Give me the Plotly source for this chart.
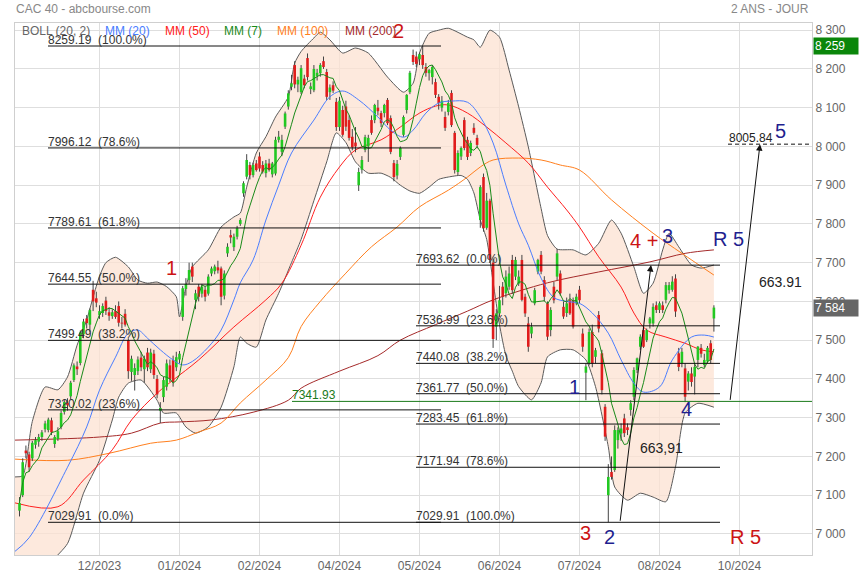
import plotly.graph_objects as go
import pandas as pd

# ------------------------------------------------------------------ data
# CAC 40 daily bars (index 0 = 13/11/2023 ... 217 = 19/09/2024)
bar_open = [
    7060, 7100, 7215, 7205, 7195, 7230, 7238, 7250, 7270, 7268,
    7293, 7232, 7245, 7276, 7315, 7338, 7355, 7397, 7432, 7441,
    7515, 7556, 7540, 7630, 7608, 7565, 7570, 7602, 7572, 7562,
    7575, 7588, 7545, 7568, 7500, 7418, 7410, 7420, 7455, 7425,
    7468, 7425, 7465, 7400, 7318, 7353, 7380, 7435, 7448, 7430,
    7450, 7560, 7632, 7655, 7690, 7604, 7638, 7620, 7630, 7620,
    7672, 7678, 7688, 7685, 7615, 7724, 7771, 7740, 7767, 7800,
    7879, 7922, 7952, 7926, 7956, 7974, 7952, 7931, 7956, 7928,
    7930, 8017, 7986, 8051, 8103, 8154, 8210, 8160, 8140, 8175,
    8228, 8148, 8145, 8182, 8189, 8220, 8192, 8140, 8158, 8115,
    8050, 8094, 8103, 8068, 8025, 8010, 7900, 7940, 7991, 8000,
    8068, 8068, 8100, 8086, 8086, 8120, 8073, 7957, 7925, 7973,
    8030, 8094, 8140, 8236, 8232, 8225, 8236, 8205, 8189, 8179,
    8166, 8128, 8100, 8076, 8089, 8138, 8035, 7934, 7974, 8068,
    8017, 7983, 8048, 8022, 7810, 7921, 7790, 7860, 7700, 7535,
    7569, 7638, 7621, 7638, 7707, 7664, 7646, 7707, 7612, 7543,
    7517, 7595, 7677, 7720, 7655, 7595, 7526, 7638, 7664, 7672,
    7586, 7570, 7603, 7603, 7595, 7630, 7517, 7416, 7440, 7521,
    7457, 7565, 7466, 7328, 7100, 7160, 7165, 7242, 7259, 7298,
    7275, 7320, 7354, 7423, 7483, 7526, 7500, 7543, 7543, 7590,
    7578, 7590, 7604, 7629, 7630, 7659, 7466, 7440, 7427, 7393,
    7414, 7406, 7449, 7480, 7436, 7445, 7492, 7556]
bar_high = [
    7095, 7195, 7228, 7212, 7240, 7250, 7258, 7268, 7292, 7300,
    7300, 7255, 7275, 7318, 7345, 7350, 7395, 7440, 7445, 7525,
    7555, 7565, 7582, 7653, 7625, 7590, 7595, 7612, 7585, 7580,
    7590, 7600, 7560, 7580, 7505, 7460, 7440, 7458, 7470, 7460,
    7480, 7478, 7475, 7410, 7340, 7405, 7450, 7450, 7460, 7470,
    7472, 7640, 7660, 7700, 7700, 7630, 7645, 7645, 7640, 7670,
    7690, 7695, 7705, 7690, 7680, 7750, 7785, 7775, 7795, 7815,
    7910, 7980, 7960, 7958, 7965, 7985, 7962, 7965, 7968, 7960,
    8025, 8040, 8030, 8090, 8145, 8185, 8220, 8180, 8210, 8185,
    8240, 8165, 8210, 8200, 8215, 8232, 8200, 8160, 8168, 8125,
    8128, 8105, 8118, 8080, 8045, 8050, 7945, 7975, 8030, 8030,
    8080, 8110, 8120, 8092, 8110, 8125, 8080, 7965, 7965, 8000,
    8080, 8135, 8195, 8250, 8245, 8242, 8259.19, 8215, 8200, 8210,
    8175, 8135, 8130, 8090, 8120, 8145, 8040, 7990, 8000, 8075,
    8025, 8015, 8060, 8030, 7900, 7930, 7880, 7865, 7710, 7580,
    7640, 7650, 7680, 7690, 7720, 7715, 7680, 7720, 7620, 7560,
    7545, 7635, 7710, 7730, 7665, 7600, 7585, 7650, 7735, 7680,
    7600, 7610, 7620, 7610, 7620, 7640, 7530, 7440, 7530, 7540,
    7480, 7575, 7475, 7335, 7180, 7200, 7280, 7275, 7285, 7310,
    7285, 7345, 7430, 7455, 7515, 7535, 7530, 7560, 7595, 7600,
    7600, 7600, 7650, 7650, 7665, 7670, 7480, 7480, 7440, 7420,
    7430, 7440, 7485, 7490, 7465, 7485, 7500, 7590]
bar_low = [
    7045, 7095, 7195, 7160, 7188, 7220, 7225, 7240, 7262, 7262,
    7255, 7222, 7240, 7270, 7308, 7318, 7348, 7392, 7410, 7435,
    7505, 7530, 7520, 7575, 7585, 7555, 7560, 7565, 7550, 7555,
    7555, 7535, 7530, 7535, 7400, 7395, 7370, 7410, 7420, 7390,
    7420, 7415, 7400, 7350, 7286, 7340, 7370, 7392, 7380, 7420,
    7440, 7550, 7615, 7645, 7650, 7580, 7600, 7610, 7600, 7615,
    7665, 7670, 7672, 7590, 7605, 7715, 7750, 7730, 7760, 7795,
    7870, 7915, 7915, 7920, 7935, 7935, 7930, 7920, 7935, 7920,
    7925, 8010, 7975, 8045, 8095, 8145, 8150, 8140, 8135, 8150,
    8170, 8135, 8140, 8170, 8180, 8200, 8120, 8120, 8138, 8040,
    8040, 8025, 8040, 8015, 7990, 7985, 7885, 7930, 7985, 7960,
    8030, 8060, 8080, 8050, 8075, 8055, 7980, 7910, 7915, 7965,
    8025, 8085, 8135, 8210, 8205, 8210, 8200, 8180, 8170, 8160,
    8125, 8095, 8090, 8040, 8080, 8050, 7930, 7925, 7965, 7990,
    7965, 7975, 8030, 7995, 7790, 7780, 7785, 7700, 7480, 7500,
    7560, 7590, 7610, 7630, 7620, 7655, 7640, 7600, 7560, 7470,
    7505, 7590, 7670, 7670, 7600, 7500, 7510, 7595, 7655, 7615,
    7555, 7560, 7565, 7530, 7590, 7595, 7470, 7345, 7435, 7430,
    7440, 7520, 7360, 7240, 7030, 7140, 7160, 7220, 7240, 7250,
    7255, 7305, 7345, 7415, 7475, 7480, 7495, 7530, 7535, 7570,
    7570, 7570, 7595, 7620, 7625, 7560, 7420, 7430, 7340, 7370,
    7380, 7360, 7430, 7455, 7430, 7440, 7440, 7522]
bar_close = [
    7080, 7185, 7208, 7172, 7235, 7242, 7250, 7262, 7285, 7295,
    7262, 7250, 7265, 7312, 7340, 7332, 7390, 7435, 7425, 7520,
    7548, 7544, 7578, 7600, 7597, 7575, 7588, 7575, 7563, 7572,
    7560, 7545, 7543, 7540, 7420, 7452, 7428, 7450, 7430, 7452,
    7430, 7468, 7410, 7360, 7325, 7397, 7440, 7400, 7392, 7456,
    7465, 7634, 7645, 7681, 7664, 7621, 7612, 7638, 7612, 7664,
    7685, 7690, 7680, 7612, 7672, 7741, 7765, 7767, 7789, 7810,
    7905, 7965, 7926, 7952, 7939, 7943, 7935, 7956, 7939, 7956,
    8017, 8025, 8017, 8085, 8137, 8163, 8160, 8172, 8202, 8158,
    8179, 8155, 8200, 8190, 8210, 8205, 8128, 8152, 8144, 8050,
    8118, 8030, 8051, 8022, 7998, 8000, 7934, 7965, 8024, 8022,
    8035, 8107, 8091, 8060, 8107, 8060, 7986, 7921, 7955, 7996,
    8076, 8133, 8190, 8218, 8213, 8238, 8210, 8190, 8197, 8205,
    8133, 8112, 8118, 8048, 8112, 8055, 7939, 7983, 7996, 7996,
    7973, 8009, 8035, 8004, 7895, 7789, 7860, 7707, 7503, 7569,
    7603, 7612, 7664, 7672, 7629, 7707, 7664, 7604, 7569, 7483,
    7535, 7629, 7707, 7677, 7612, 7509, 7578, 7603, 7724, 7621,
    7561, 7595, 7569, 7535, 7612, 7603, 7483, 7432, 7521, 7440,
    7474, 7530, 7371, 7251, 7147, 7147, 7268, 7268, 7272, 7260,
    7268, 7337, 7423, 7453, 7509, 7483, 7526, 7556, 7586, 7578,
    7595, 7578, 7642, 7642, 7651, 7574, 7431, 7470, 7354, 7414,
    7392, 7431, 7483, 7465, 7449, 7480, 7449, 7584]

tick_index = [25, 50, 75, 100, 125, 150, 175, 200, 225]
tick_labels = ["12/2023", "01/2024", "02/2024", "04/2024", "05/2024",
               "06/2024", "07/2024", "08/2024", "10/2024"]

# indicator curves (bar index, value)
boll_up_i = [-1.4, 1, 4, 8, 12, 15, 18, 21, 23, 25, 27, 30, 34, 37, 40, 43, 46, 49, 50, 52,
             54, 59, 63, 67, 69, 71, 74, 77, 80, 84, 86, 88, 92, 94, 97, 101, 105, 109, 115,
             120, 123, 125, 128, 131, 134, 140, 142, 144, 147, 150, 153, 156, 159, 163, 165,
             168, 173, 177, 181, 185, 188, 192, 195, 198, 201, 203, 206, 210, 213, 217]
boll_up_v = [7147, 7150, 7290, 7379, 7372, 7405, 7487, 7552, 7611, 7665, 7700, 7714, 7689,
             7655, 7647, 7650, 7638, 7612, 7560, 7638, 7689, 7733, 7792, 7818, 7828, 7895,
             7983, 8025, 8076, 8128, 8215, 8245, 8280, 8295, 8275, 8241, 8254, 8241, 8179,
             8140, 8163, 8241, 8292, 8300, 8305, 8282, 8275, 8256, 8300, 8282, 8197, 8102,
             7999, 7840, 7770, 7735, 7733, 7720, 7750, 7810, 7776, 7689, 7621, 7647, 7733,
             7776, 7741, 7694, 7686, 7694]
boll_low_i = [-1.4, 5, 10, 15, 20, 25, 29, 31, 34, 38, 43, 45, 49, 52, 55, 59, 63, 67, 69, 71,
              74, 77, 81, 85, 88, 92, 96, 99, 102, 105, 109, 113, 116, 119, 122, 125, 128, 131,
              134, 138, 140, 142, 144, 146, 148, 150, 152, 154, 156, 160, 163, 165, 169, 173,
              177, 180, 184, 186, 190, 194, 198, 202, 205, 208, 212, 217]
boll_low_v = [6880, 6900, 6930, 6975, 7105, 7190, 7294, 7353, 7389, 7397, 7345, 7312, 7312,
              7276, 7260, 7276, 7327, 7431, 7508, 7492, 7482, 7552, 7621, 7700, 7760, 7860,
              7960, 8035, 8010, 7960, 7931, 7931, 7920, 7900, 7885, 7879, 7895, 7915, 7921,
              7925, 7915, 7880, 7810, 7760, 7650, 7540, 7460, 7420, 7380, 7346, 7390, 7457,
              7475, 7475, 7449, 7380, 7225, 7121, 7087, 7105, 7095, 7083, 7173, 7312, 7337,
              7327]
mm20_i = [-1.4, 3, 15, 21, 25, 30, 34, 37, 40, 44, 48, 51, 54, 59, 63, 67, 69, 73, 77, 81,
          85, 92, 97, 101, 106, 112, 116, 120, 123, 127, 131, 135, 140, 144, 148, 152, 156,
          159, 163, 167, 171, 175, 179, 184, 188, 192, 195, 200, 204, 210, 214, 217]
mm20_v = [6955, 6990, 7172, 7276, 7371, 7456, 7518, 7526, 7505, 7475, 7449, 7436, 7445,
          7482, 7526, 7604, 7648, 7707, 7810, 7900, 7983, 8068, 8128, 8143, 8120, 8076,
          8042, 8024, 8042, 8086, 8112, 8117, 8114, 8076, 8009, 7900, 7800, 7745, 7660,
          7610, 7600, 7595, 7570, 7518, 7449, 7389, 7366, 7379, 7449, 7508, 7513, 7508]
mm50_i = [-1.4, 12, 20, 29, 35, 43, 48, 56, 67, 77, 82, 88, 94, 100, 105, 113, 119, 125,
          130, 134, 140, 146, 152, 159, 165, 171, 175, 181, 188, 192, 196, 202, 208, 213, 217]
mm50_v = [7080, 7070, 7139, 7217, 7294, 7363, 7397, 7449, 7534, 7604, 7647, 7745, 7869,
          7947, 7991, 8017, 8050, 8086, 8104, 8107, 8086, 8050, 8009, 7957, 7895, 7836,
          7792, 7715, 7637, 7570, 7526, 7508, 7492, 7475, 7470]
mm100_i = [-1.4, 15, 28, 41, 49, 56, 63, 69, 77, 84, 88, 94, 102, 110, 118, 125, 134, 140,
           144, 148, 156, 163, 169, 175, 185, 198, 207, 217]
mm100_v = [7193, 7190, 7208, 7234, 7242, 7263, 7286, 7338, 7397, 7455, 7535, 7600, 7673,
           7741, 7792, 7844, 7887, 7921, 7947, 7965, 7970, 7965, 7952, 7939, 7862, 7776,
           7724, 7668]
mm200_i = [-1.4, 25, 35, 44, 50, 60, 73, 84, 88, 100, 112, 119, 130, 140, 148, 165, 181,
           197, 208, 217]
mm200_v = [7242, 7250, 7260, 7286, 7289, 7294, 7314, 7345, 7376, 7420, 7460, 7500, 7540,
           7575, 7604, 7648, 7676, 7702, 7724, 7733]

# Fibonacci retracements and projections
fib_left_levels = [8259.19, 7996.12, 7789.61, 7644.55, 7499.49, 7320.02, 7029.91]
fib_left_pct = ["100.0%", "78.6%", "61.8%", "50.0%", "38.2%", "23.6%", "0.0%"]
fib_right_levels = [7693.62, 7536.99, 7440.08, 7361.77, 7283.45, 7171.94, 7029.91]
fib_right_pct = ["0.0%", "23.6%", "38.2%", "50.0%", "61.8%", "78.6%", "100.0%"]
support_level = 7341.93
move_size = 663.91
target_level = round(support_level + move_size, 2)   # 8005.84
wave_base = 7029.91

# ------------------------------------------------------------------ layout helpers
W, H = 860, 580
PL, PR, PT, PB = 15, 812, 23, 555          # plot area in pixels


def xi(px):
    return (px - 19.5) / 3.2


def yv(py):
    return 8259.19 - (py - 46) / 0.38746


def px_paper(px):
    return (px - PL) / (PR - PL)


def py_paper(py):
    return (PB - py) / (PB - PT)


n = len(bar_close)
idx = list(range(n))
close_s = pd.Series(bar_close, dtype=float)
mm7 = close_s.rolling(7, min_periods=1).mean()

GREEN_C = "#22c822"
RED_C = "#e01c1c"
FONT = "Liberation Sans, Arial, sans-serif"

fig = go.Figure()

# Bollinger envelope
fig.add_trace(go.Scatter(x=boll_up_i, y=boll_up_v, mode="lines",
                         line=dict(color="#5a5a5a", width=1, shape="spline", smoothing=0.6),
                         hoverinfo="skip"))
fig.add_trace(go.Scatter(x=boll_low_i, y=boll_low_v, mode="lines", fill="tonexty",
                         fillcolor="rgba(252,226,210,0.75)",
                         line=dict(color="#5a5a5a", width=1, shape="spline", smoothing=0.6),
                         hoverinfo="skip"))

# long moving averages
fig.add_trace(go.Scatter(x=mm200_i, y=mm200_v, mode="lines",
                         line=dict(color="#a52a2a", width=1, shape="spline")))
fig.add_trace(go.Scatter(x=mm100_i, y=mm100_v, mode="lines",
                         line=dict(color="#ff7f1e", width=1, shape="spline")))
fig.add_trace(go.Scatter(x=mm50_i, y=mm50_v, mode="lines",
                         line=dict(color="#ff2020", width=1, shape="spline")))

# candles: wicks, then bodies as thick segments (kept in the scatter layer)
wx, wy = [], []
for i in idx:
    wx += [i, i, None]
    wy += [bar_low[i], bar_high[i], None]
fig.add_trace(go.Scatter(x=wx, y=wy, mode="lines", line=dict(color="#444444", width=1),
                         hoverinfo="skip"))
for up, col in [(True, GREEN_C), (False, RED_C)]:
    bx, by = [], []
    for i in idx:
        o, c = bar_open[i], bar_close[i]
        if (c >= o) == up:
            bx += [i, i, None]
            by += [o, c, None]
    fig.add_trace(go.Scatter(x=bx, y=by, mode="lines", line=dict(color=col, width=2.6),
                             hoverinfo="skip"))

fig.add_trace(go.Scatter(x=mm20_i, y=mm20_v, mode="lines",
                         line=dict(color="#4a7dff", width=1, shape="spline")))
fig.add_trace(go.Scatter(x=idx, y=mm7, mode="lines",
                         line=dict(color="#1a8a1a", width=1)))

# Fibonacci lines
lx0, lx1 = xi(48), xi(441)
rx0, rx1 = xi(416), xi(720)
fx, fy = [], []
for lv in fib_left_levels:
    fx += [lx0, lx1, None]
    fy += [lv, lv, None]
for lv in fib_right_levels:
    fx += [rx0, rx1, None]
    fy += [lv, lv, None]
fig.add_trace(go.Scatter(x=fx, y=fy, mode="lines", line=dict(color="#111", width=1),
                         hoverinfo="skip"))

x_end = xi(PR)
fig.add_trace(go.Scatter(x=[xi(292), x_end], y=[support_level, support_level], mode="lines",
                         line=dict(color="#1a7a1a", width=1)))
fig.add_trace(go.Scatter(x=[xi(728), x_end], y=[target_level, target_level], mode="lines",
                         line=dict(color="#111", width=1, dash="4px,3px")))

ann = []


def txt(x, y, s, color="#333", size=12, xanchor="left", yanchor="middle", **kw):
    d = dict(x=x, y=y, text=s, showarrow=False, xanchor=xanchor, yanchor=yanchor,
             font=dict(family=FONT, size=size, color=color))
    d.update(kw)
    ann.append(d)


for lv, pc in zip(fib_left_levels, fib_left_pct):
    txt(lx0, lv, f"{lv:.2f}\u00a0 ({pc})", yanchor="bottom", yshift=-3, xshift=-2)
for lv, pc in zip(fib_right_levels, fib_right_pct):
    txt(rx0, lv, f"{lv:.2f}\u00a0 ({pc})", yanchor="bottom", yshift=-3, xshift=-2)
txt(xi(292), support_level, f"{support_level:.2f}", color="#1a7a1a",
    yanchor="bottom", yshift=-3, xshift=-2)
txt(xi(729), target_level, f"{target_level:.2f}", color="#222", yanchor="bottom",
    yshift=-3, xshift=-2)

# projection arrows
ann.append(dict(x=xi(651), y=wave_base + move_size, ax=xi(620), ay=wave_base,
                xref="x", yref="y", axref="x", ayref="y", showarrow=True,
                arrowhead=2, arrowsize=1.3, arrowwidth=1, arrowcolor="#111", text=""))
ann.append(dict(x=xi(760), y=target_level, ax=xi(730), ay=support_level,
                xref="x", yref="y", axref="x", ayref="y", showarrow=True,
                arrowhead=2, arrowsize=1.3, arrowwidth=1, arrowcolor="#111", text=""))
txt(xi(661), yv(448), f"{move_size:.2f}".replace(".", ","), color="#222", size=14,
    xanchor="center")
txt(xi(780), yv(282), f"{move_size:.2f}", color="#222", size=14, xanchor="center")

# wave counts
RED_W = "#cc1414"
NAVY = "#1f1f8f"
for (px, py, s, col) in [(171, 268, "1", RED_W), (398, 31, "2", RED_W),
                         (585, 533, "3", RED_W), (644, 241, "4 +", RED_W),
                         (745, 537, "R 5", RED_W),
                         (574, 387, "1", NAVY), (609, 537, "2", NAVY),
                         (667, 236, "3", NAVY), (686, 409, "4", NAVY),
                         (728, 239, "R 5", NAVY), (780, 131, "5", NAVY)]:
    txt(xi(px), yv(py), s, color=col, size=20, xanchor="center")

# in-plot legend
for (px, s, col) in [(20, "BOLL (20, 2)", "#666"), (103, "MM (20)", "#4a7dff"),
                     (163, "MM (50)", "#ff2020"), (222, "MM (7)", "#1a8a1a"),
                     (275, "MM (100)", "#ff7f1e"), (343, "MM (200)", "#a52a2a")]:
    ann.append(dict(x=px_paper(px), y=py_paper(31), xref="paper", yref="paper", text=s,
                    showarrow=False, xanchor="left", yanchor="middle",
                    font=dict(family=FONT, size=12, color=col)))

# header texts
ann.append(dict(x=px_paper(14), y=py_paper(9), xref="paper", yref="paper",
                text="CAC 40 - abcbourse.com", showarrow=False, xanchor="left",
                yanchor="middle", font=dict(family=FONT, size=12, color="#888")))
ann.append(dict(x=px_paper(811), y=py_paper(9), xref="paper", yref="paper",
                text="2 ANS - JOUR", showarrow=False, xanchor="right",
                yanchor="middle", font=dict(family=FONT, size=12, color="#888")))


def fmt(v):
    return f"{int(round(v)):,}".replace(",", " ")


# price flags on the right axis
for val, bg in [(max(bar_high), "#0a860a"), (bar_close[-1], "#666666")]:
    ann.append(dict(x=1, y=val, xref="paper", yref="y", text=fmt(val), showarrow=False,
                    xanchor="left", yanchor="middle", xshift=1, width=42, align="left",
                    bgcolor=bg, borderpad=1,
                    font=dict(family=FONT, size=12, color="white")))

yticks = list(range(7000, 8301, 100))
fig.update_layout(
    width=W, height=H, autosize=False,
    margin=dict(l=PL, r=W - PR, t=PT, b=H - PB, autoexpand=False),
    paper_bgcolor="white", plot_bgcolor="white",
    showlegend=False,
    annotations=ann,
    font=dict(family=FONT),
    xaxis=dict(range=[xi(PL), xi(PR)], tickvals=tick_index, ticktext=tick_labels,
               showgrid=True, gridcolor="#dedede", gridwidth=1, zeroline=False,
               showline=True, linecolor="#cfcfcf", mirror=True, ticks="", automargin=False,
               tickfont=dict(family=FONT, size=12, color="#666")),
    yaxis=dict(range=[yv(PB), yv(PT)], side="right", tickvals=yticks,
               ticktext=[fmt(v) for v in yticks], showgrid=True, gridcolor="#dedede",
               gridwidth=1, zeroline=False, showline=True, linecolor="#cfcfcf",
               mirror=True, ticks="", automargin=False,
               tickfont=dict(family=FONT, size=12, color="#666")),
)

fig.write_html("out.html",
               config={"displayModeBar": False},
               post_script="document.body.style.margin='0px';"
                           "document.body.style.overflow='hidden';")
